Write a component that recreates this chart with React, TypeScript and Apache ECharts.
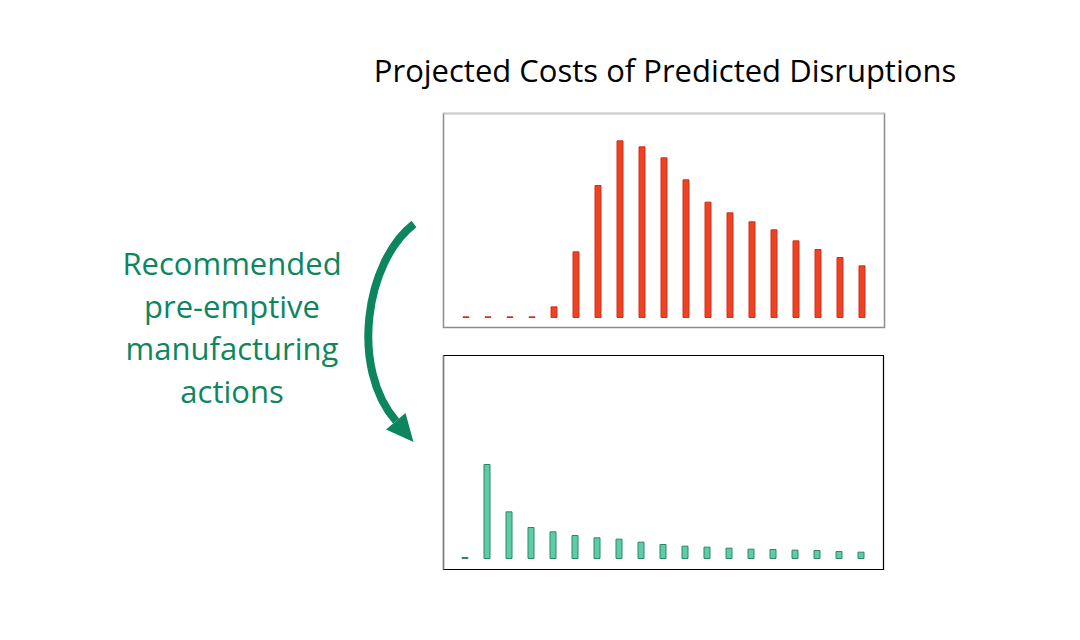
import React, { useEffect, useRef } from "react";
import * as echarts from "echarts";

const categories = [
  "1", "2", "3", "4", "5", "6", "7", "8", "9", "10",
  "11", "12", "13", "14", "15", "16", "17", "18", "19",
];
const predictedCosts = [5, 5, 5, 5, 35, 200, 399, 533, 515, 482, 416, 349, 317, 290, 266, 233, 207, 183, 158];
const mitigatedCosts = [6, 285, 143, 96, 83, 72, 65, 61, 52, 45, 40, 37, 34, 31, 30, 28, 27, 24, 22];
const titleText = "Projected Costs of Predicted Disruptions";
const actionLines = ["Recommended", "pre-emptive", "manufacturing", "actions"];

const GREEN = "#0d8660";
const FONT = "'Open Sans', 'Noto Sans', sans-serif";

export default function App() {
  const ref = useRef<HTMLDivElement>(null);
  useEffect(() => {
    if (!ref.current) return;
    const chart = echarts.init(ref.current, null, { renderer: "svg" });
    const yMax = 615;
    chart.setOption({
      animation: false,
      backgroundColor: "#ffffff",
      title: {
        text: titleText,
        left: 660,
        top: 49,
        textAlign: "center",
        textStyle: { fontFamily: FONT, fontSize: 31, fontWeight: "normal", color: "#000" },
      },
      grid: [
        { left: 455, width: 418, top: 113, height: 205 },
        { left: 454, width: 418, top: 354, height: 205 },
      ],
      xAxis: [
        { type: "category", data: categories, gridIndex: 0, show: false, boundaryGap: true },
        { type: "category", data: categories, gridIndex: 1, show: false, boundaryGap: true },
      ],
      yAxis: [
        { type: "value", gridIndex: 0, min: 0, max: yMax, show: false, splitLine: { show: false } },
        { type: "value", gridIndex: 1, min: 0, max: yMax, show: false, splitLine: { show: false } },
      ],
      series: [
        {
          type: "bar",
          xAxisIndex: 0,
          yAxisIndex: 0,
          data: predictedCosts,
          barWidth: 7,
          itemStyle: { color: "#ef4123", borderColor: "#cf3219", borderWidth: 1 },
        },
        {
          type: "bar",
          xAxisIndex: 1,
          yAxisIndex: 1,
          data: mitigatedCosts,
          barWidth: 7,
          itemStyle: { color: "#5ecca9", borderColor: "#2a8867", borderWidth: 1 },
        },
      ],
      graphic: [
        // top frame
        { type: "rect", shape: { x: 443.5, y: 113.5, width: 441, height: 214 }, style: { fill: "none", stroke: "#8c8c8c", lineWidth: 1.5 }, z: 10 },
        { type: "line", shape: { x1: 443.5, y1: 113.5, x2: 884.5, y2: 113.5 }, style: { stroke: "#cfcfcf", lineWidth: 1.5 }, z: 11 },
        // bottom frame
        { type: "rect", shape: { x: 443.5, y: 355.5, width: 440, height: 214 }, style: { fill: "none", stroke: "#000", lineWidth: 1.2 }, z: 10 },
        { type: "line", shape: { x1: 443.5, y1: 355.5, x2: 443.5, y2: 569.5 }, style: { stroke: "#808080", lineWidth: 1.5 }, z: 11 },
        // left text
        ...actionLines.map((t, i) => ({
          type: "text",
          x: 232,
          y: 263 + i * 42.5,
          style: {
            text: t,
            fill: GREEN,
            font: `normal 31px ${FONT}`,
            textAlign: "center",
            textVerticalAlign: "middle",
          },
        })),
        // arrow shaft
        {
          type: "bezierCurve",
          shape: { x1: 414, y1: 224, cpx1: 365, cpy1: 262, cpx2: 350, cpy2: 368, x2: 396, y2: 421 },
          style: { stroke: GREEN, lineWidth: 8, fill: "none" },
        },
        // arrow head
        {
          type: "polygon",
          shape: { points: [[386, 429.5], [405.5, 413], [413.5, 442]] },
          style: { fill: GREEN },
        },
      ],
    });
    return () => chart.dispose();
  }, []);
  return (
    <div
      ref={ref}
      style={{ position: "fixed", left: 0, top: 0, width: 1080, height: 640 }}
    />
  );
}
